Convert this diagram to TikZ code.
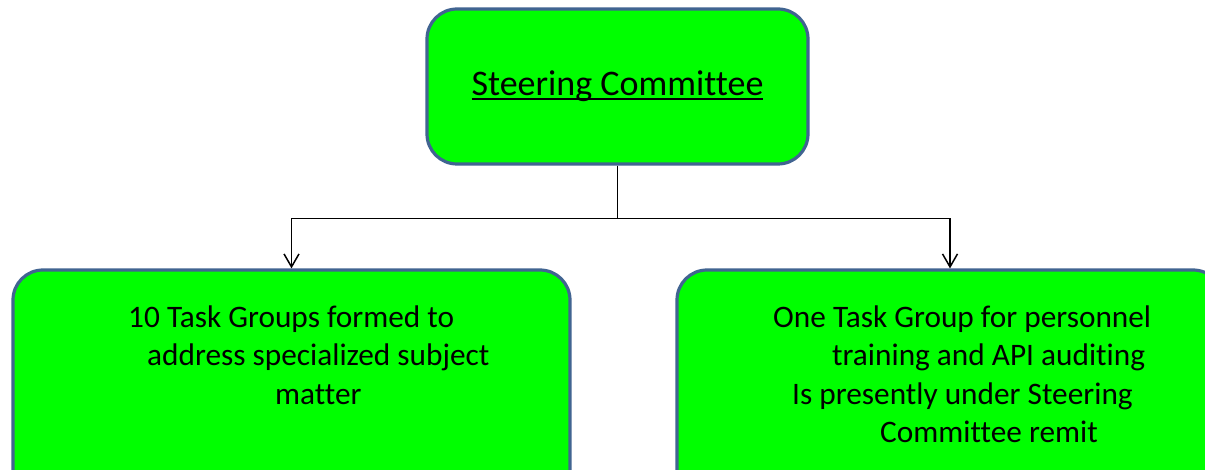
\documentclass[tikz,border=0pt]{standalone}
\usepackage{fontspec}
\setmainfont{Carlito}[Ligatures=NoCommon]
\usetikzlibrary{arrows.meta}
\definecolor{boxgreen}{RGB}{0,255,0}
\definecolor{boxborder}{RGB}{65,100,145}
\newcommand\myul[1]{\setbox0\hbox{#1}\rlap{\rule[-4pt]{\wd0}{1.8pt}}\box0}
\begin{document}
\begin{tikzpicture}[x=1pt,y=-1pt,
  gbox/.style={draw=boxborder, line width=3.2pt, fill=boxgreen, rounded corners=30pt, rectangle, inner sep=0pt},
  btext/.style={anchor=base west, inner sep=0pt, font=\fontsize{31.3}{38}\selectfont},
  conn/.style={line width=1.5pt, -{Straight Barb[length=13pt,width=15pt,line width=1.5pt]}}]
\clip (0,0) rectangle (1205,470);
\node[gbox, minimum width=381pt, minimum height=155pt, font=\fontsize{36}{42}\selectfont] (top) at (617.5,86.5) {\myul{Steering Committee}};
\node[gbox, minimum width=557pt, minimum height=230pt] (left) at (291.5,385) {};
\node[gbox, minimum width=546pt, minimum height=230pt] (right) at (950,385) {};
\draw[conn] (top.south) -- ++(0,53) -| (left.north);
\draw[conn] (top.south) -- ++(0,53) -| (right.north);
\node[btext] (l1) at (128,327) {10 Task Groups formed to};
\node[btext] (l2) at (147,366) {address specialized subject};
\node[btext] (l3) at (275,404) {matter};
\node[btext] (r1) at (773,328) {One Task Group for personnel};
\node[btext] (r2) at (832,366) {training and API auditing};
\node[btext] (r3) at (792,404) {Is presently under Steering};
\node[btext] (r4) at (880,442) {Committee remit};
\end{tikzpicture}
\end{document}
